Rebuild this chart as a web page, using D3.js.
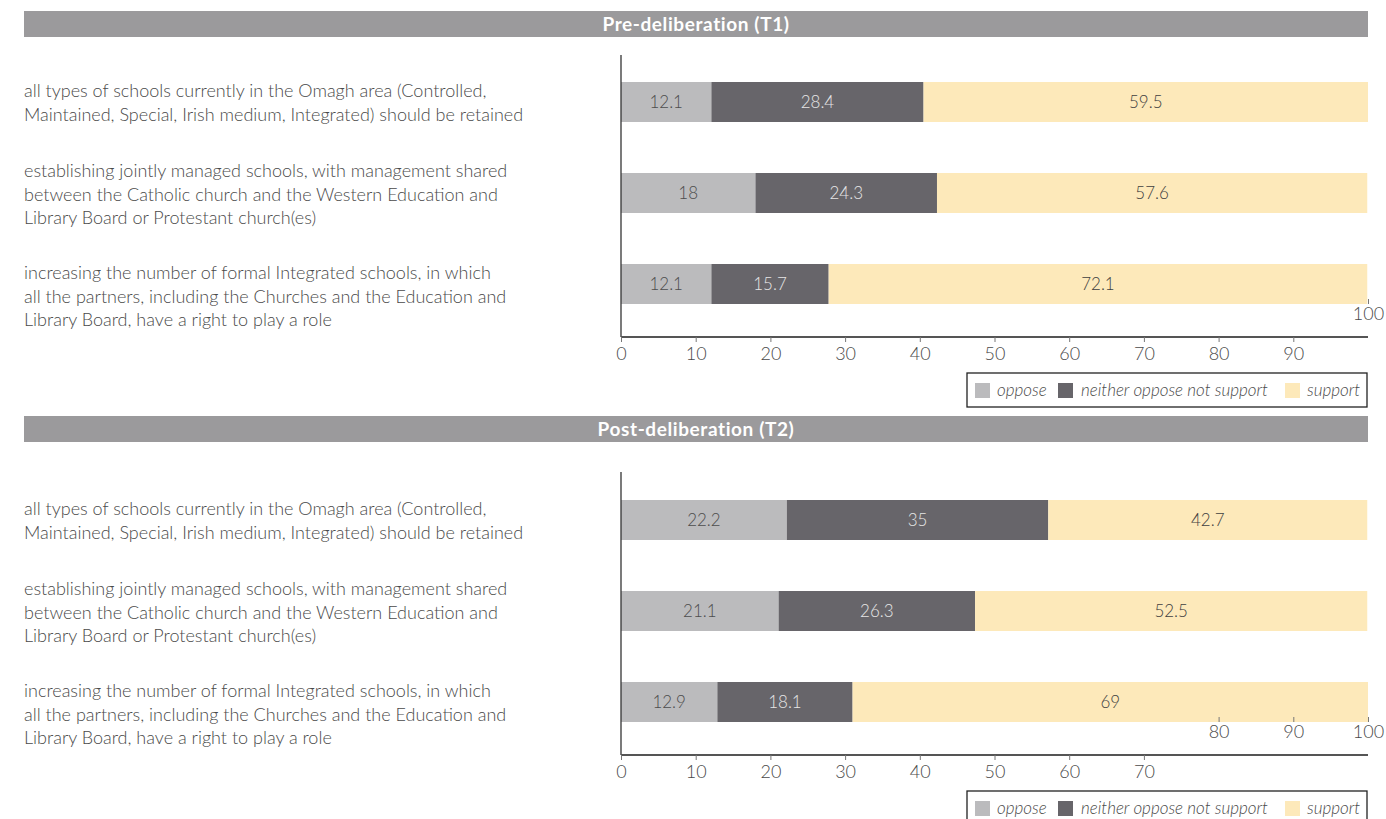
<!DOCTYPE html>
<html>
<head>
<meta charset="utf-8">
<script src="https://cdn.jsdelivr.net/npm/d3@7/dist/d3.min.js"></script>
<style>
  html, body { margin: 0; padding: 0; background: #fff; }
  svg { display: block; }
  text { font-family: Lato, "Open Sans", sans-serif; }
</style>
</head>
<body>
<svg id="chart" width="1386" height="819"></svg>
<script>
// ---------- data ----------
const categories = [
  ["all types of schools currently in the Omagh area (Controlled,",
   "Maintained, Special, Irish medium, Integrated) should be retained"],
  ["establishing jointly managed schools, with management shared",
   "between the Catholic church and the Western Education and",
   "Library Board or Protestant church(es)"],
  ["increasing the number of formal Integrated schools, in which",
   "all the partners, including the Churches and the Education and",
   "Library Board, have a right to play a role"]
];
const seriesNames = ["oppose", "neither oppose not support", "support"];
const panelTitles = ["Pre-deliberation (T1)", "Post-deliberation (T2)"];

const t1Oppose  = [12.1, 18, 12.1];
const t1Neither = [28.4, 24.3, 15.7];
const t1Support = [59.5, 57.6, 72.1];

const t2Oppose  = [22.2, 21.1, 12.9];
const t2Neither = [35, 26.3, 18.1];
const t2Support = [42.7, 52.5, 69];

const t1TicksBelow = [0, 10, 20, 30, 40, 50, 60, 70, 80, 90];
const t1TicksAbove = [100];
const t2TicksBelow = [0, 10, 20, 30, 40, 50, 60, 70];
const t2TicksAbove = [80, 90, 100];

// ---------- styles ----------
const colors = ["#bbbbbd", "#67656a", "#fde9ba"];
const labelColors = ["#4d4d4d", "#e6e6e6", "#3f3f3f"];
const textColor = "#4a4a4a";

const svg = d3.select("#chart");
const x = d3.scaleLinear().domain([0, 100]).range([621, 1368]);
const color = d3.scaleOrdinal().domain(seriesNames).range(colors);

const panels = [
  { title: panelTitles[0], headerY: 11, axisTop: 55, axisY: 337, barTop: 82,
    series: [t1Oppose, t1Neither, t1Support], below: t1TicksBelow, above: t1TicksAbove, legendY: 373 },
  { title: panelTitles[1], headerY: 416, axisTop: 472, axisY: 755, barTop: 500,
    series: [t2Oppose, t2Neither, t2Support], below: t2TicksBelow, above: t2TicksAbove, legendY: 791 }
];

panels.forEach(p => {
  const g = svg.append("g");

  // header
  g.append("rect").attr("x", 24).attr("y", p.headerY).attr("width", 1344).attr("height", 26)
    .attr("fill", "#9b9a9c");
  g.append("text").attr("x", 696).attr("y", p.headerY + 13).attr("dy", "0.36em")
    .attr("text-anchor", "middle").attr("fill", "#fff").attr("font-weight", 700)
    .attr("font-size", 19).attr("letter-spacing", 0.6).text(p.title);

  const y = d3.scaleBand().domain(d3.range(categories.length))
    .range([p.barTop, p.barTop + 222]).paddingInner(51 / 91).paddingOuter(0);

  // stacked rows
  const rows = categories.map((c, i) => {
    let acc = 0;
    return p.series.map((s, k) => {
      const d = { i, k, x0: acc, x1: acc + s[i], v: s[i] };
      acc += s[i];
      return d;
    });
  });

  rows.forEach(row => {
    row.forEach(d => {
      g.append("rect")
        .attr("x", x(d.x0)).attr("y", y(d.i))
        .attr("width", Math.min(x(d.x1), x(100)) - x(d.x0)).attr("height", y.bandwidth())
        .attr("fill", color(seriesNames[d.k]));
      g.append("text")
        .attr("x", (x(d.x0) + Math.min(x(d.x1), x(100))) / 2)
        .attr("y", y(d.i) + y.bandwidth() / 2).attr("dy", "0.36em")
        .attr("text-anchor", "middle").attr("font-size", 17).attr("font-weight", 300)
        .attr("fill", labelColors[d.k]).text(d.v);
    });
  });

  // category labels
  categories.forEach((lines, i) => {
    const cy = y(i) + y.bandwidth() / 2;
    const start = cy + (i === 1 ? -22 : -11);
    const t = g.append("text").attr("font-size", 18).attr("font-weight", 300).attr("fill", textColor);
    lines.forEach((ln, j) => {
      t.append("tspan").attr("x", 24).attr("y", start + j * 23.5).attr("dy", "0.36em").text(ln);
    });
  });

  // axes
  g.append("line").attr("x1", x(0)).attr("x2", x(0)).attr("y1", p.axisTop).attr("y2", p.axisY)
    .attr("stroke", "#333").attr("stroke-width", 1.3);

  const axisB = g.append("g").attr("transform", `translate(0,${p.axisY})`)
    .call(d3.axisBottom(x).tickValues(p.below).tickSize(5).tickSizeOuter(0).tickFormat(d3.format("d")));
  axisB.select(".domain").attr("d", `M${x(0)},0H${x(100)}`).attr("stroke", "#555").attr("stroke-width", 2);
  axisB.selectAll(".tick line").attr("stroke", "#777");
  axisB.selectAll(".tick text").attr("font-size", 18).attr("font-weight", 300)
    .attr("fill", textColor).attr("font-family", "Lato, sans-serif").attr("y", 10);

  const axisA = g.append("g").attr("transform", `translate(0,${p.axisY - 38})`)
    .call(d3.axisBottom(x).tickValues(p.above).tickSize(5).tickSizeOuter(0).tickFormat(d3.format("d")));
  axisA.select(".domain").remove();
  axisA.selectAll(".tick line").attr("stroke", "#777");
  axisA.selectAll(".tick text").attr("font-size", 18).attr("font-weight", 300)
    .attr("fill", textColor).attr("font-family", "Lato, sans-serif").attr("y", 8);

  // legend
  const lg = g.append("g").attr("transform", `translate(967,${p.legendY})`);
  lg.append("rect").attr("width", 400).attr("height", 34).attr("fill", "#fff")
    .attr("stroke", "#222").attr("stroke-width", 1.3);
  const sw = [8, 91, 318];
  const tx = [30, 114, 340];
  seriesNames.forEach((n, k) => {
    lg.append("rect").attr("x", sw[k]).attr("y", 10).attr("width", 15).attr("height", 15)
      .attr("fill", color(n));
    lg.append("text").attr("x", tx[k]).attr("y", 17).attr("dy", "0.36em")
      .attr("font-size", 17).attr("font-style", "italic").attr("font-weight", 300)
      .attr("fill", textColor).text(n);
  });
});
</script>
</body>
</html>
